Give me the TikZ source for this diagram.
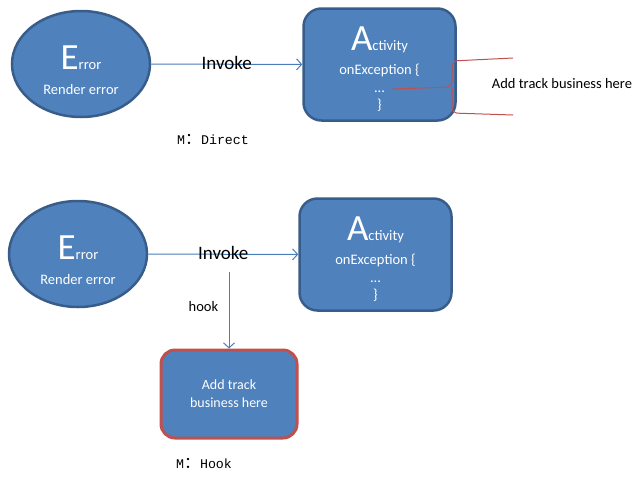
\documentclass[tikz,border=0pt]{standalone}
\usepackage{xcolor}
\usepackage{fontspec}
\setmainfont{Carlito}
\newfontfamily\codefont{Liberation Mono}
\newfontfamily\cjkfont{Noto Sans CJK SC}
\usepackage{tikz}
\usetikzlibrary{shapes.geometric, arrows.meta}
\definecolor{officeblue}{HTML}{4F81BD}
\definecolor{officeedge}{HTML}{385D8A}
\definecolor{officered}{HTML}{C0504D}
\definecolor{linkblue}{HTML}{4A7EBB}
\newcommand{\bigletter}[2]{\rule{0pt}{#2}{\fontsize{37}{37}\selectfont #1}}
\newcommand{\modelabel}[1]{{\codefont M}{\cjkfont\fontsize{16}{16}\selectfont ：}{\codefont #1}}
\tikzstyle{errnode}  = [ellipse, minimum width=138pt, minimum height=106pt, inner sep=0pt, text centered, align=center, draw=officeedge, line width=2.5pt, fill=officeblue, text=white, font=\fontsize{14.5}{17.5}\selectfont]
\tikzstyle{activity} = [rectangle, rounded corners=18pt, minimum width=152pt, minimum height=112pt, text centered, align=center, draw=officeedge, line width=2.5pt, fill=officeblue, text=white, font=\fontsize{14.5}{17.5}\selectfont]
\tikzstyle{trackbox} = [rectangle, rounded corners=14pt, minimum width=136pt, minimum height=88pt, text centered, align=center, draw=officered, line width=3pt, fill=officeblue, text=white, font=\fontsize{14}{18}\selectfont]
\tikzstyle{arrow}    = [draw=linkblue, line width=1pt, -{Straight Barb[length=5pt,width=11pt]}]
\tikzstyle{bracket}  = [draw=officered, line width=1pt, rounded corners=5pt]
\tikzstyle{invoke}   = [font=\fontsize{19}{19}\selectfont, inner sep=0pt, yshift=1.5pt]
\tikzstyle{caption}  = [font=\fontsize{13.3}{16}\selectfont]

\begin{document}
\begin{tikzpicture}[x=1pt, y=-1pt]
    \useasboundingbox (0,0) rectangle (644,482);

    % M: Direct
    \node (err1) [errnode]  at (81,64)      {\bigletter{E}{36pt}rror\\[8pt]Render error};
    \node (act1) [activity] at (379.5,64.5) {\bigletter{A}{33pt}ctivity\\[6.5pt]onException \{\\...\\\}};
    \draw [arrow] (err1) -- node (invoke1) [invoke] {Invoke} (act1);
    \node (direct) [caption] at (213,139) {\modelabel{Direct}};

    \coordinate (dotsend) at (393,89);
    \coordinate (bkt)     at (452,87);
    \coordinate (bkttop)  at (513,58);
    \coordinate (bktbot)  at (513,115);
    \draw [bracket] (dotsend) -- (bkt) -- (452,61) -- (bkttop);
    \draw [bracket] (bkt) -- (452,113) -- (bktbot);
    \node (tracktext) [font=\fontsize{14.5}{17.5}\selectfont] at (562,84) {Add track business here};

    % M: Hook
    \node (err2)  [errnode]  at (78,254)      {\bigletter{E}{36pt}rror\\[8pt]Render error};
    \node (act2)  [activity] at (375.5,254.5) {\bigletter{A}{33pt}ctivity\\[6.5pt]onException \{\\...\\\}};
    \node (track) [trackbox] at (229,394)     {Add track\\business here};
    \draw [arrow] (err2) -- node (invoke2) [invoke] {Invoke} (act2);

    \coordinate (hookstart) at (229,272);
    \draw [arrow] (hookstart) -- node (hooktext) [left=7pt, pos=0.45, font=\fontsize{14.5}{17.5}\selectfont] {hook} (track);
    \node (hookmode) [caption] at (204,463) {\modelabel{Hook}};

\end{tikzpicture}
\end{document}
